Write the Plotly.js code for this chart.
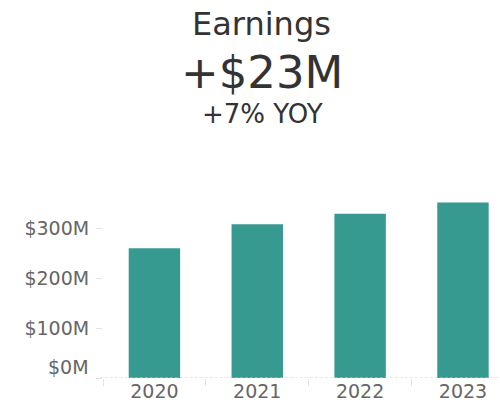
<!DOCTYPE html>
<html>
<head>
<meta charset="utf-8">
<script src="https://cdn.plot.ly/plotly-3.0.1.min.js"></script>
<style>html,body{margin:0;padding:0;background:#fff;}#chart{width:500px;height:408px;}</style>
</head>
<body>
<div id="chart"></div>
<script>
const years = ["2020", "2021", "2022", "2023"];
const earnings = [261, 309, 330, 353]; // $M
const yTickVals = [0, 100, 200, 300];
const yTickText = ["", "$100M", "$200M", "$300M"];
const titleText = "Earnings";
const changeText = "+$23M";
const yoyText = "+7% YOY";
const zeroLabel = "$0M";

const FONT = "Verdana, 'DejaVu Sans', sans-serif";

const data = [{
  type: "bar",
  x: years,
  y: earnings,
  marker: {color: "#379a91", line: {width: 0}},
  hoverinfo: "skip"
}];

const layout = {
  width: 500, height: 408,
  margin: {l: 103, r: 0, t: 190, b: 30},
  paper_bgcolor: "#fff", plot_bgcolor: "#fff",
  bargap: 0.5,
  showlegend: false,
  font: {family: FONT, color: "#666"},
  xaxis: {
    type: "category",
    range: [-0.5, 3.36],
    showgrid: false, zeroline: false, showline: false,
    ticks: "outside", tickson: "boundaries", ticklen: 7, tickwidth: 1, tickcolor: "#e2e2e2",
    tickfont: {family: FONT, size: 19, color: "#666"},
    fixedrange: true
  },
  yaxis: {
    range: [0, 378],
    tickvals: yTickVals, ticktext: yTickText,
    showgrid: false, zeroline: false, showline: false,
    ticks: "outside", ticklen: 6, tickwidth: 1, tickcolor: "#e2e2e2",
    ticklabelstandoff: 3,
    tickfont: {family: FONT, size: 19, color: "#666"},
    fixedrange: true
  },
  shapes: [{
    type: "line", xref: "paper", yref: "y",
    x0: -0.008, x1: 1, y0: 0, y1: 0,
    line: {color: "#cfcfcf", width: 1.2, dash: "3px,2px"}
  }],
  annotations: [
    {text: titleText, xref: "paper", yref: "paper", x: 0.4, y: 1, yshift: 166, xanchor: "center", yanchor: "middle", showarrow: false, font: {family: FONT, size: 32, color: "#333"}},
    {text: changeText, xref: "paper", yref: "paper", x: 0.4, y: 1, yshift: 118, xanchor: "center", yanchor: "middle", showarrow: false, font: {family: FONT, size: 45, color: "#333"}},
    {text: yoyText, xref: "paper", yref: "paper", x: 0.403, y: 1, yshift: 76, xanchor: "center", yanchor: "middle", showarrow: false, font: {family: FONT, size: 26, color: "#333"}},
    {text: zeroLabel, xref: "paper", yref: "y", x: 0, y: 0, xshift: -12, yshift: 11, xanchor: "right", yanchor: "middle", showarrow: false, font: {family: FONT, size: 19, color: "#666"}}
  ]
};

Plotly.newPlot("chart", data, layout, {displayModeBar: false, staticPlot: true});
</script>
</body>
</html>
